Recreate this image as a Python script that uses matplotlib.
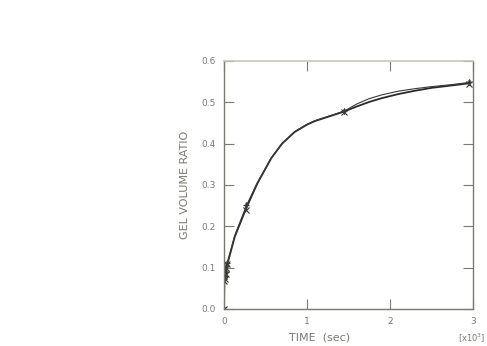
import numpy as np
import matplotlib
matplotlib.use("Agg")
import matplotlib.pyplot as plt

# time in seconds
time_a = [0, 5, 10, 15, 20, 30, 40, 130, 270, 400, 570, 700, 850, 1000, 1100, 1300, 1450,
          1600, 1750, 1900, 2100, 2300, 2500, 2750, 2950]
ratio_a = [0.0, 0.068, 0.072, 0.078, 0.085, 0.098, 0.108, 0.175, 0.245, 0.303, 0.365, 0.400,
           0.428, 0.446, 0.455, 0.468, 0.478, 0.490, 0.501, 0.510, 0.520, 0.528, 0.535,
           0.541, 0.546]
time_b = time_a
ratio_b = [0.0, 0.070, 0.075, 0.080, 0.088, 0.102, 0.112, 0.178, 0.250, 0.305, 0.366, 0.401,
           0.429, 0.447, 0.456, 0.469, 0.479, 0.496, 0.509, 0.518, 0.527, 0.533, 0.538,
           0.543, 0.548]

# measured points with markers
mark_t = [0, 5, 10, 20, 30, 40, 270, 1450, 2950]
mark_a = [0.0, 0.068, 0.072, 0.085, 0.098, 0.108, 0.240, 0.476, 0.544]
mark_b = [0.0, 0.072, 0.080, 0.090, 0.105, 0.112, 0.252, 0.480, 0.549]

xticks = [0, 1000, 2000, 3000]
xticklabels = ["0", "1", "2", "3"]
yticks = [0.0, 0.1, 0.2, 0.3, 0.4, 0.5, 0.6]

gray = "#7a7a72"
fig = plt.figure(figsize=(4.87, 3.46), dpi=100)
ax = fig.add_axes([224 / 487, 37 / 346, 249 / 487, 248 / 346])

ax.plot(time_a, ratio_a, color="#2a2a2a", lw=1.3)
ax.plot(time_b, ratio_b, color="#3a3a3a", lw=0.8)
ax.plot(mark_t, mark_a, ls="none", marker="x", ms=4, mew=0.8, color="#333333")
ax.plot(mark_t, mark_b, ls="none", marker="+", ms=5, mew=0.8, color="#333333")
ax.plot(mark_t, mark_b, ls="none", marker="d", ms=3, mew=0.6, mfc="none", color="#444444")

ax.set_xlim(0, 3000)
ax.set_ylim(0, 0.6)
ax.set_xticks(xticks)
ax.set_xticklabels(xticklabels)
ax.set_yticks(yticks)
ax.set_yticklabels([f"{v:.1f}" for v in yticks])
ax.tick_params(direction="in", length=7, width=0.8, colors=gray, labelsize=6.5,
               top=True, right=True, pad=6)
for s in ["left", "bottom", "right"]:
    ax.spines[s].set_color(gray)
    ax.spines[s].set_linewidth(1.0)
ax.spines["top"].set_color("#c8c8bc")
ax.spines["top"].set_linewidth(1.2)

ax.set_ylabel("GEL VOLUME RATIO", fontsize=8, color=gray, labelpad=8)
fig.text(320 / 487, 1 - 338 / 346, "TIME  (sec)", fontsize=8, color=gray,
         ha="center", va="center")
fig.text(485 / 487, 1 - 338 / 346, r"[x10$^3$]", fontsize=6, color=gray,
         ha="right", va="center")

fig.savefig("out.png", dpi=100)
